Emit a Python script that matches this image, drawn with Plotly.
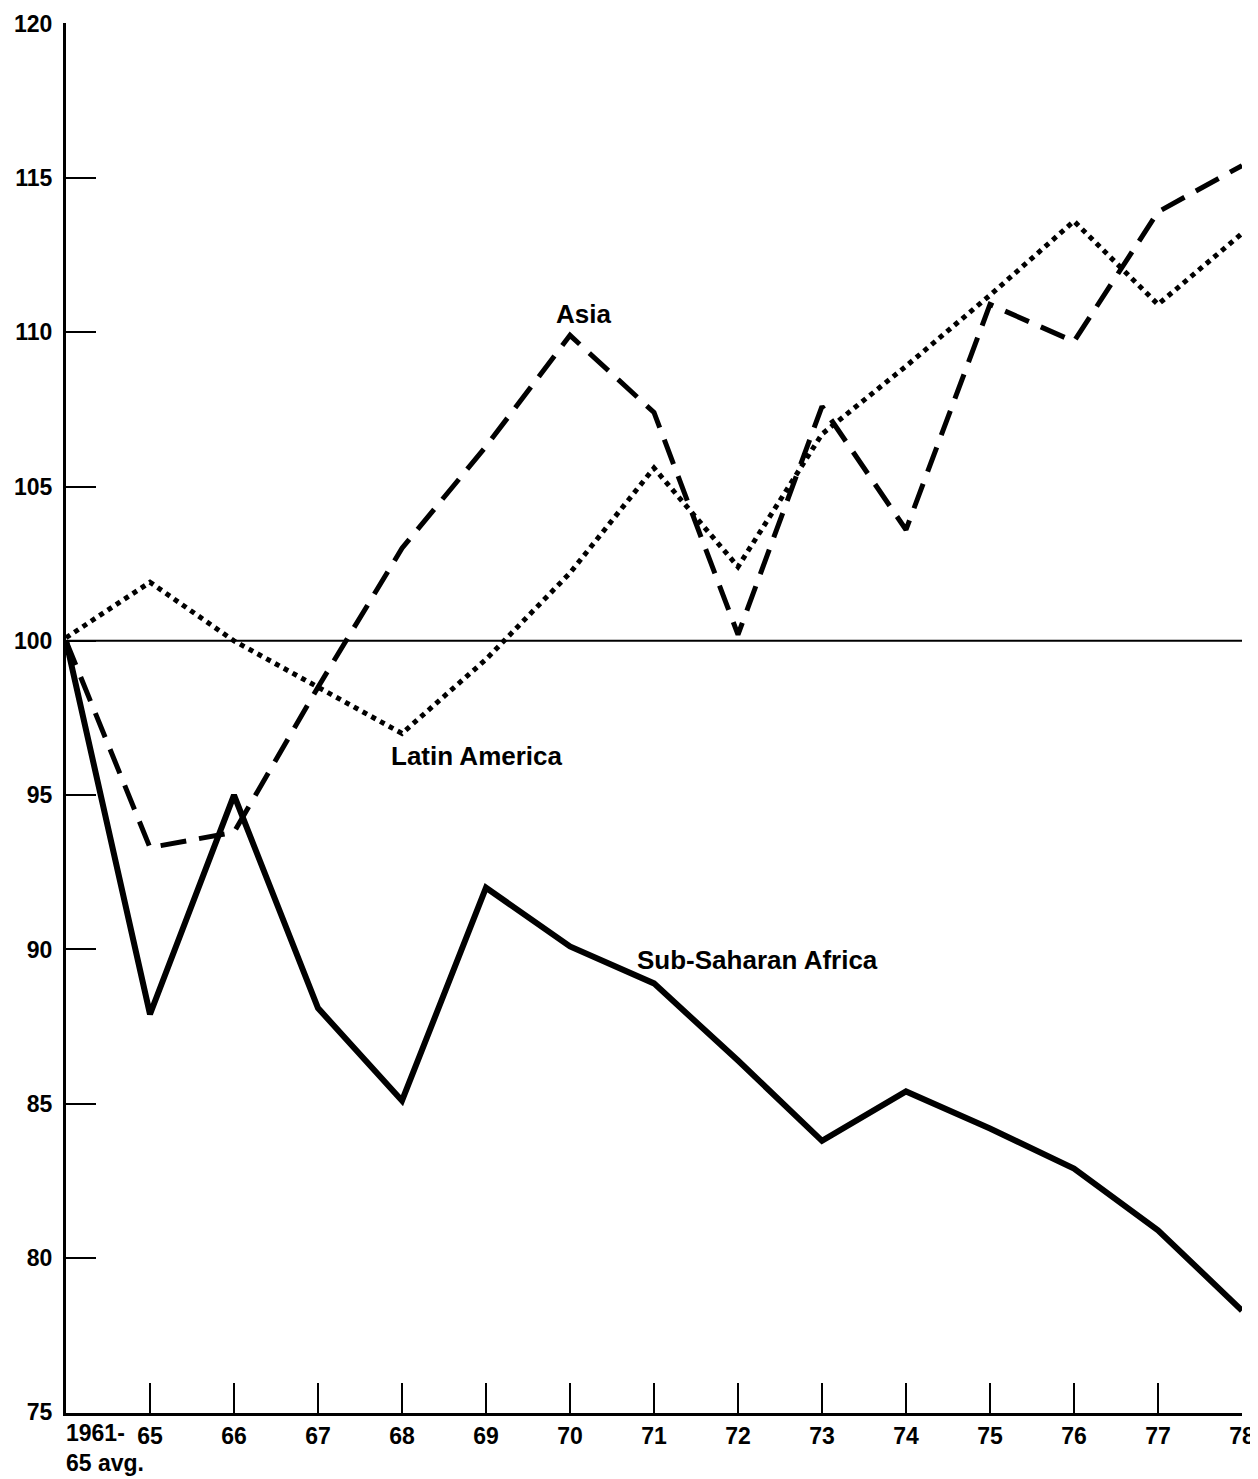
import plotly.graph_objects as go

# ---- data ----
categories = ["1961-65 avg.", "65", "66", "67", "68", "69", "70", "71",
              "72", "73", "74", "75", "76", "77", "78"]
tick_labels = ["1961-<br>65 avg.", "65", "66", "67", "68", "69", "70", "71",
               "72", "73", "74", "75", "76", "77", "78"]
latin_america = [100.1, 101.9, 100.0, 98.5, 97.0, 99.4, 102.2, 105.6,
                 102.4, 106.7, 108.9, 111.2, 113.6, 110.9, 113.2]
asia = [100.0, 93.3, 93.8, 98.5, 103.0, 106.3, 109.9, 107.4,
        100.2, 107.6, 103.6, 110.9, 109.7, 113.9, 115.4]
sub_saharan_africa = [100.0, 87.9, 95.0, 88.1, 85.1, 92.0, 90.1, 88.9,
                      86.4, 83.8, 85.4, 84.2, 82.9, 80.9, 78.3]
y_ticks = [75, 80, 85, 90, 95, 100, 105, 110, 115, 120]
baseline = 100

FONT = "Liberation Sans, Arial, Helvetica, sans-serif"

fig = go.Figure()
fig.add_trace(go.Scatter(x=categories, y=sub_saharan_africa, mode="lines",
                         line=dict(color="black", width=6),
                         name="Sub-Saharan Africa"))
fig.add_trace(go.Scatter(x=categories, y=asia, mode="lines",
                         line=dict(color="black", width=5, dash="26px,13px"),
                         name="Asia"))
fig.add_trace(go.Scatter(x=categories, y=latin_america, mode="lines",
                         line=dict(color="black", width=5, dash="5px,5px"),
                         name="Latin America"))

fig.add_hline(y=baseline, line=dict(color="black", width=2))

lab_font = dict(family=FONT, size=26, color="black", weight="bold")
# series labels
fig.add_annotation(x=6.16, y=110.6, text="Asia", showarrow=False, font=lab_font)
fig.add_annotation(x=3.85, y=96.27, text="Latin America", showarrow=False,
                   xanchor="left", font=lab_font)
fig.add_annotation(x=6.77, y=89.65, text="Sub-Saharan Africa", showarrow=False,
                   xanchor="left", font=lab_font)

tick_font = dict(family=FONT, size=23, color="black", weight="bold")
# first x tick label, left aligned at axis
fig.add_annotation(x=0, xref="x", y=0, yref="paper", text=tick_labels[0],
                   showarrow=False, xanchor="left", yanchor="top", align="left",
                   yshift=-5, xshift=-2, font=tick_font)

fig.update_xaxes(type="category", categoryorder="array", categoryarray=categories,
                 range=[0, len(categories) - 1], automargin=False,
                 tickvals=categories, ticktext=[""] + tick_labels[1:],
                 ticks="inside", ticklen=30, tickwidth=2, tickcolor="black",
                 showline=True, linecolor="black", linewidth=3,
                 showgrid=False, zeroline=False, tickfont=tick_font)
fig.update_yaxes(range=[74.98, 120.02], tickvals=y_ticks, automargin=False,
                 ticks="inside", ticklen=30, tickwidth=2, tickcolor="black",
                 showline=True, linecolor="black", linewidth=3,
                 showgrid=False, zeroline=False, ticklabelstandoff=6,
                 tickfont=tick_font)

# page body adds an 8px margin, so the figure is sized to fit the window
fig.update_layout(width=1250, height=1471,
                  margin=dict(l=58, r=16, t=15, b=66),
                  paper_bgcolor="white", plot_bgcolor="white",
                  showlegend=False)

fig.write_html("out.html")
